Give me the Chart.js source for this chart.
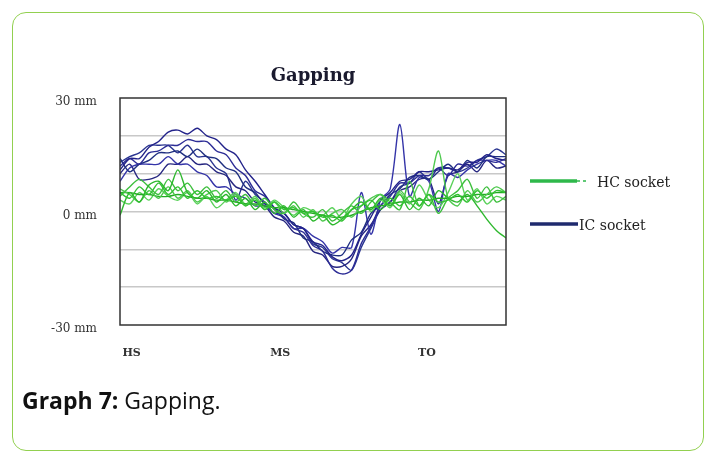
<!DOCTYPE html>
<html>
<head>
<meta charset="utf-8">
<script src="https://cdn.jsdelivr.net/npm/chart.js@4"></script>
<style>
html, body { margin: 0; padding: 0; background: #fff; }
body { width: 704px; height: 452px; position: relative; overflow: hidden; }
.card { position: absolute; left: 12px; top: 12px; width: 692px; height: 439px; border: 1.5px solid #92d050; border-radius: 14px; box-sizing: border-box; }
.wrap { position: absolute; left: 0; top: 0; width: 704px; height: 452px; }
.caption { position: absolute; left: 22px; top: 389px; line-height: 1; font-family: "Open Sans", sans-serif; font-size: 23px; color: #111; }
</style>
</head>
<body>
<div class="card"></div>
<div class="wrap"><canvas id="gapChart"></canvas></div>
<div class="caption"><b>Graph 7:</b> Gapping.</div>
<script>
// gait cycle position (%), sampled along the x axis
const gait = [0, 2.5, 5, 7.5, 10, 12.5, 15, 17.5, 20, 22.5, 25, 27.5, 30, 32.5, 35, 37.5, 40, 42.5, 45, 47.5,
              50, 52.5, 55, 57.5, 60, 62.5, 65, 67.5, 70, 72.5, 75, 77.5, 80, 82.5, 85, 87.5, 90, 92.5, 95, 97.5, 100];

const xTickPos = [3, 41.5, 79.5];
const xTickLabels = ["HS", "MS", "TO"];
const yLabelled = [30, 0, -30];

// IC socket trials (mm)
const ic1 = [11, 14, 14, 17, 18.5, 21, 21.5, 20.5, 22, 20, 19, 16.5, 15, 11, 8, 4.5, 1, -0.5, -3.5, -4.5, -8, -9, -12, -13, -11.5, -6, -1.5, 3, 5, 8, 8.5, 10.5, 10.5, 11, 11.5, 11, 13, 13, 15, 14, 13.5];
const ic2 = [12, 14, 12.5, 15.5, 16, 17.5, 17.5, 19, 18.5, 18.5, 16, 15, 11.5, 9.5, 5.5, 4, 0.5, -1.5, -4.5, -5.5, -9, -10.5, -15, -16.5, -15.5, -8.5, -4, 1.5, 4, 7.5, 7.5, 9.5, 9.5, 11.5, 9.5, 12.5, 12, 13.5, 13.5, 13, 14];
const ic3 = [14, 10.5, 12.5, 13.5, 15.5, 15.5, 16, 14.5, 16.5, 14.5, 14, 11.5, 10.5, 6.5, 5, 2, 1, -2, -3, -7, -8, -10.5, -11.5, -11.5, -7.5, -5.5, -0.5, 1.5, 4.5, 6, 9, 9.5, 8.5, 10.5, 12.5, 10.5, 13.5, 11.5, 14.5, 14.5, 14.5];
const ic4 = [8, 11.5, 12.5, 12.5, 12.5, 14.5, 12.5, 12.5, 10.5, 9.5, 6.5, 6.5, 4.5, 3.5, 1.5, 1.5, -0.5, -1.5, -4.5, -4.5, -6.5, -8, -11, -9.5, -9.5, 5, -6, 3, 6, 23, 4, 9, 8, 0, 10, 9, 11, 12.5, 13.5, 13.5, 12];
const ic5 = [10, 12.5, 8.5, 8.5, 9.5, 12.5, 12.5, 14.5, 12.5, 12.5, 10.5, 9.5, 6.5, 5.5, 2.5, 1.5, -1.5, -2.5, -5.5, -6.5, -10.5, -11.5, -14.5, -14.5, -12.5, -6.5, -3.5, 0.5, 2.5, 5.5, 6.5, 8.5, 8.5, 2, 9.5, 10.5, 12.5, 10.5, 13.5, 11.5, 12];
const ic6 = [13, 14.5, 15.5, 17.5, 17.5, 17.5, 15.5, 17.5, 14.5, 14.5, 11.5, 10, 3, 8, 4.5, 2.5, -0.5, -0.5, -3.5, -4.5, -8.5, -9.5, -12.5, -13.5, -15.5, -9.5, -4.5, 0.5, 2.5, 6.5, 7.5, 10.5, 8.5, 11.5, 11.5, 10.5, 11.5, 13.5, 14.5, 16.5, 15];

// HC socket trials (mm)
const hc1 = [5, 3.5, 6.5, 4.5, 7.5, 4.5, 6.5, 3.5, 5.5, 3.5, 4, 3, 4, 1.5, 3, 0.5, 2.5, 0.5, 1, -0.5, 0, -1.5, -1, -2.5, 0.5, 1.5, 3, 0.5, 3.5, 1.5, 4, 1.5, 4.5, 2.5, 3, 4.5, 2.5, 5.5, 3.5, 5.5, 5];
const hc2 = [-1, 5, 2.5, 7, 8, 5.5, 11, 5, 3.5, 5.5, 2.5, 4.5, 1.5, 3.5, 0.5, 2.5, -0.5, 1.5, -1.5, 0.5, -2.5, -1, -3.5, -2, 0.5, 2.5, 0.5, 3.5, 1.5, 4.5, 0.5, 3.5, 1.5, 5.5, 3.5, 2.5, 4.5, 1.5, -2, -5, -7];
const hc3 = [6, 4.5, 2.5, 5.5, 3.5, 6.5, 3.5, 5.5, 2.5, 4.5, 5.5, 2.5, 4.5, 1.5, 3.5, 0.5, 2.5, -0.5, 1.5, -1.5, 0.5, -2.5, -0.5, 0.5, -1.5, 1.5, 3.5, 4.5, 1.5, 5.5, 2.5, 0.5, 6, 16, 3.5, 1.5, 5.5, 2.5, 4.5, 6.5, 5];
const hc4 = [4, 6.5, 8.5, 6.5, 4.5, 8.5, 5.5, 7.5, 4.5, 6.5, 3.5, 5.5, 2.5, 4.5, 1.5, 3.5, 0.5, -0.5, 2.5, -0.5, -1.5, 0.5, -2.5, -0.5, 1.5, -0.5, 2.5, 4.5, 2.5, 0.5, 8, 1.5, 4.5, -0.5, 3.5, 5.5, 8.5, 3.5, 6.5, 2.5, 4];
const hc5 = [5, 5, 4.5, 4.5, 4, 4, 4.5, 4, 3.5, 3.5, 3, 3, 2.5, 2, 2, 1.5, 1, 1, 0.5, 0, -0.5, -1, -1.5, -1.5, -1, 0, 1, 1.5, 2, 2.5, 2.5, 3, 3, 3.5, 3.5, 4, 4, 4.5, 4.5, 5, 5];
const hc6 = [3, 2, 5, 3, 6, 4, 3, 5, 2, 4, 1, 3, 5, 2, 4, 1, 3, 1, -1, 1, 0, -1, 1, -2, 2, 4, 0, 3, 1, 5, 2, 7, 3, 1, 5, 10, 3, 6, 2, 4, 3];

const hcSeries = [hc1, hc2, hc3, hc4, hc5, hc6];
const icSeries = [ic1, ic2, ic3, ic4, ic5, ic6];
const hcColors = ["#33c233", "#2eb82e", "#4fc94f", "#3dbf3d", "#22aa22", "#5ad15a"];
const icColors = ["#23238a", "#2d2d96", "#1f2f80", "#3434a8", "#262680", "#2a3590"];

function toPoints(vals) {
    return vals.map((v, i) => ({ x: gait[i], y: v }));
}

const datasets = [];
hcSeries.forEach((s, i) => datasets.push({
    label: "HC socket", data: toPoints(s), borderColor: hcColors[i],
    borderWidth: 1.4, pointRadius: 0, tension: 0.3, fill: false
}));
icSeries.forEach((s, i) => datasets.push({
    label: "IC socket", data: toPoints(s), borderColor: icColors[i],
    borderWidth: 1.4, pointRadius: 0, tension: 0.3, fill: false
}));

const plotBox = {
    id: "plotBox",
    afterDatasetsDraw(chart) {
        const { ctx, chartArea: a } = chart;
        ctx.save();
        ctx.strokeStyle = "#333";
        ctx.lineWidth = 1.5;
        ctx.strokeRect(a.left, a.top, a.right - a.left, a.bottom - a.top);
        ctx.restore();
    }
};

const sideLegend = {
    id: "sideLegend",
    afterDraw(chart) {
        const ctx = chart.ctx;
        ctx.save();
        ctx.lineCap = "butt";
        ctx.lineWidth = 3.5;
        ctx.strokeStyle = "#2eb84a";
        ctx.beginPath(); ctx.moveTo(530, 181); ctx.lineTo(577, 181); ctx.stroke();
        ctx.lineWidth = 1.5;
        ctx.setLineDash([3, 3]);
        ctx.beginPath(); ctx.moveTo(577, 181); ctx.lineTo(589, 181); ctx.stroke();
        ctx.setLineDash([]);
        ctx.lineWidth = 3.5;
        ctx.strokeStyle = "#1f2a6e";
        ctx.beginPath(); ctx.moveTo(530, 224); ctx.lineTo(578, 224); ctx.stroke();
        ctx.fillStyle = "#222";
        ctx.font = "14px 'DejaVu Serif'";
        ctx.textBaseline = "middle";
        ctx.fillText("HC socket", 597, 183);
        ctx.fillText("IC socket", 579, 226);
        ctx.restore();
    }
};

new Chart(document.getElementById("gapChart"), {
    type: "line",
    data: { datasets: datasets },
    options: {
        responsive: true,
        maintainAspectRatio: false,
        animation: false,
        layout: { padding: { left: 20, right: 198, top: 66, bottom: 87 } },
        plugins: {
            legend: { display: false },
            tooltip: { enabled: false }
        },
        scales: {
            top: {
                type: "linear",
                position: "top",
                min: 0,
                max: 100,
                grid: { display: false },
                border: { display: false },
                ticks: { display: false },
                afterFit: s => { s.height = 32; },
                title: {
                    display: true,
                    text: "Gapping",
                    color: "#1a1a2e",
                    font: { family: "DejaVu Serif", size: 18, weight: "bold" },
                    padding: { top: 0, bottom: 10 }
                }
            },
            x: {
                type: "linear",
                min: 0,
                max: 100,
                grid: { display: false },
                border: { display: false },
                afterBuildTicks: s => { s.ticks = xTickPos.map(v => ({ value: v })); },
                afterFit: s => { s.height = 40; },
                ticks: {
                    autoSkip: false,
                    maxRotation: 0,
                    padding: 14,
                    color: "#333",
                    font: { family: "DejaVu Serif", size: 11, weight: "bold" },
                    callback: (v, i) => xTickLabels[i]
                }
            },
            y: {
                min: -30,
                max: 30,
                border: { display: false },
                afterFit: s => { s.width = 100; },
                grid: {
                    drawTicks: false,
                    lineWidth: 1.5,
                    color: c => (Math.abs(c.tick.value) === 30 ? "rgba(0,0,0,0)" : "#c8c8c8")
                },
                ticks: {
                    stepSize: 10,
                    padding: 23,
                    labelOffset: 4,
                    color: "#333",
                    font: { family: "DejaVu Serif", size: 12 },
                    callback: v => (yLabelled.includes(v) ? v + " mm" : "")
                }
            }
        }
    },
    plugins: [plotBox, sideLegend]
});
</script>
</body>
</html>
